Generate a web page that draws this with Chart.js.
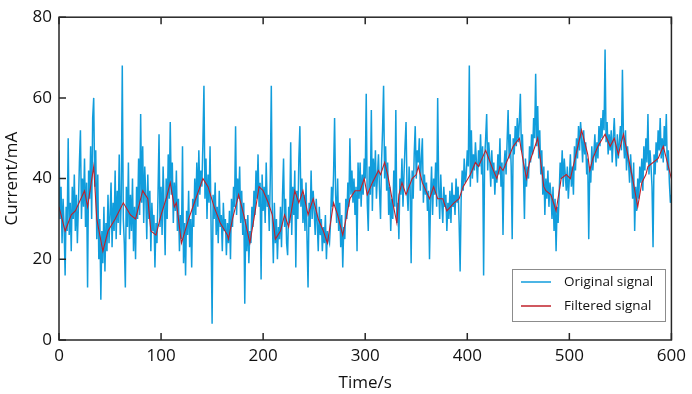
<!DOCTYPE html>
<html><head><meta charset="utf-8">
<script src="https://cdn.jsdelivr.net/npm/chart.js@4/dist/chart.umd.min.js"></script>
<style>html,body{margin:0;padding:0;background:#fff}#wrap{width:692px;height:394px}</style>
</head><body><div id="wrap"><canvas id="c" width="692" height="394"></canvas></div>
<script>
// ---- data ----
const xTickValues = [0, 100, 200, 300, 400, 500, 600];
const yTickValues = [0, 20, 40, 60, 80];
const sampleInterval = 1; // seconds between original samples
const originalSignal = [
47,30,38,24,35,28,16,33,27,50, 26,34,22,38,30,41,27,36,24,33,
44,52,30,40,33,45,28,39,13,42, 35,48,30,55,60,38,47,25,41,20,
30,10,27,19,33,17,29,22,36,24, 31,39,23,34,27,42,25,37,29,46,
26,35,68,30,24,13,38,28,44,25, 36,27,40,22,33,20,38,30,45,31,
56,34,48,29,43,36,25,41,30,37, 22,34,27,31,18,29,24,36,51,28,
38,26,43,33,21,40,30,46,35,54, 36,44,29,39,32,42,27,35,22,31,
25,48,19,29,16,32,26,37,23,30, 18,35,28,40,31,44,33,47,36,42,
38,49,63,35,45,30,41,34,48,28, 4,36,30,39,26,33,24,37,28,31,
22,34,27,30,21,29,24,32,20,35, 28,38,33,53,31,40,35,43,29,37,
26,34,9,30,22,31,19,27,24,33, 28,37,31,42,35,46,33,39,15,41,
32,38,29,44,33,36,27,40,63,30, 19,34,24,30,20,28,25,33,23,36,
45,28,35,24,21,33,29,49,26,38, 31,42,18,37,30,45,53,33,40,29,
36,27,39,25,13,34,28,42,30,37, 32,26,35,29,22,33,26,30,22,28,
24,31,20,27,25,24,29,38,33,41, 55,36,29,40,27,34,23,31,18,28,
25,35,30,39,33,50,36,42,34,40, 31,38,22,44,35,44,33,41,36,45,
40,61,34,27,43,36,57,32,45,38, 47,35,41,46,37,30,44,52,63,40,
48,37,44,31,38,27,35,30,42,33, 57,29,34,25,40,36,45,33,41,48,
54,37,32,43,38,19,42,35,46,53, 40,47,44,50,37,45,50,34,41,36,
39,32,37,20,35,43,31,40,36,44, 33,60,38,30,41,34,29,38,33,36,
27,34,30,37,29,39,33,36,31,40, 34,38,29,17,35,42,37,45,39,41,
47,43,68,38,52,40,46,42,49,44, 39,47,43,51,41,48,16,45,50,56,
42,49,45,38,47,40,44,36,42,39, 46,41,50,38,44,26,43,47,41,49,
57,45,51,43,25,50,46,53,48,55, 49,54,61,47,51,42,30,45,38,43,
40,48,44,51,46,55,50,66,48,58, 45,52,41,47,36,43,31,40,35,42,
33,39,36,30,38,27,35,22,33,29, 36,44,40,47,38,45,41,37,43,35,
40,46,38,43,36,48,42,50,45,53, 47,54,50,44,52,46,49,41,45,25,
43,39,48,42,46,51,44,49,45,53, 48,55,50,57,52,72,49,54,46,51,
47,52,44,50,55,48,43,51,45,49, 53,47,67,50,45,52,42,48,44,39,
46,41,35,44,27,38,32,40,35,43, 39,45,37,48,42,50,44,56,41,47,
43,38,23,46,41,49,44,52,47,55, 45,50,44,53,48,56,42,47,39,34,
36
];
const filteredTime = [0,6,12,16,25,28,34,37,43,48,55,63,70,75,82,87,90,95,100,105,109,113,115,120,127,134,141,146,152,158,165,166,170,176,181,187,191,196,200,205,209,212,217,221,225,231,235,239,244,249,254,259,263,269,273,278,282,285,290,295,299,302,307,313,315,319,322,327,331,333,336,340,346,350,352,356,363,367,371,376,380,387,392,396,403,408,411,418,424,429,432,435,440,445,451,455,458,461,469,472,475,477,482,487,492,497,501,512,518,520,523,528,535,540,544,548,553,558,562,567,571,575,577,582,587,592,595,600];
const filteredValue = [33,27,31,32,37,33,43,30,22,27,30,34,31,30,37,35,27,26,31,35,39,33,34,24,30,35,40,38,33,29,26,25,30,36,31,24,30,38,37,34,31,25,27,31,28,37,34,37,31,35,30,27,24,34,31,26,31,35,37,37,40,36,39,42,41,44,41,34,29,36,39,36,40,41,43,39,35,38,35,35,32,34,35,38,41,44,43,47,43,40,43,42,45,48,50,44,40,44,50,44,38,37,36,32,40,41,40,52,46,42,45,48,51,48,50,46,51,45,40,33,39,41,43,44,45,48,45,40];
const seriesLabels = ['Original signal', 'Filtered signal'];
const seriesColors = ['#119ddc', '#c0202a'];

// ---- chart ----
const FONT = 'Open Sans';
const originalPoints = originalSignal.map((v, i) => ({x: i * sampleInterval, y: v}));
const filteredPoints = filteredTime.map((t, i) => ({x: t, y: filteredValue[i]}));

const framePlugin = {
  id: 'frame',
  afterDatasetsDraw(chart) {
    const {ctx, chartArea: a, scales: {x, y}} = chart;
    ctx.save();
    ctx.strokeStyle = '#262626';
    ctx.lineWidth = 1.5;
    ctx.strokeRect(a.left, a.top, a.right - a.left, a.bottom - a.top);
    ctx.beginPath();
    const tl = 7;
    x.ticks.forEach(t => {
      const px = x.getPixelForValue(t.value);
      ctx.moveTo(px, a.bottom); ctx.lineTo(px, a.bottom - tl);
      ctx.moveTo(px, a.top); ctx.lineTo(px, a.top + tl);
    });
    y.ticks.forEach(t => {
      const py = y.getPixelForValue(t.value);
      ctx.moveTo(a.left, py); ctx.lineTo(a.left + tl, py);
    });
    ctx.stroke();
    // legend box
    const bx = 512, by = 269, bw = 153, bh = 52;
    ctx.fillStyle = '#fff';
    ctx.fillRect(bx, by, bw, bh);
    ctx.strokeStyle = '#8c8c8c';
    ctx.lineWidth = 1;
    ctx.strokeRect(bx + 0.5, by + 0.5, bw, bh);
    chart.data.datasets.forEach((ds, i) => {
      const ly = by + 13 + i * 24;
      ctx.strokeStyle = ds.borderColor;
      ctx.lineWidth = 1.5;
      ctx.beginPath(); ctx.moveTo(bx + 9, ly); ctx.lineTo(bx + 39, ly); ctx.stroke();
      ctx.fillStyle = '#111';
      ctx.font = '13.5px "' + FONT + '"';
      ctx.textBaseline = 'middle';
      ctx.textAlign = 'left';
      ctx.fillText(ds.label, bx + 52, ly);
    });
    ctx.restore();
  }
};

new Chart(document.getElementById('c'), {
  type: 'line',
  data: {
    datasets: [
      {label: seriesLabels[0], data: originalPoints, borderColor: seriesColors[0], borderWidth: 1.5, pointRadius: 0, tension: 0, order: 1},
      {label: seriesLabels[1], data: filteredPoints, borderColor: seriesColors[1], borderWidth: 1.1, pointRadius: 0, tension: 0, order: 0}
    ]
  },
  options: {
    responsive: false,
    animation: false,
    devicePixelRatio: 1,
    layout: {padding: {top: 9, right: 16, left: 0, bottom: 0}},
    plugins: {legend: {display: false}, tooltip: {enabled: false}},
    scales: {
      x: {
        type: 'linear', min: 0, max: 600,
        afterBuildTicks: s => { s.ticks = xTickValues.map(v => ({value: v})); },
        afterFit: s => { s.height = 54; },
        grid: {display: false, drawTicks: false},
        border: {display: false},
        ticks: {color: '#111', font: {family: FONT, size: 17}, padding: 6, maxRotation: 0},
        title: {display: true, text: 'Time/s', color: '#111', font: {family: FONT, size: 17}, padding: {top: 0, bottom: 1}}
      },
      y: {
        type: 'linear', min: 0, max: 80,
        afterBuildTicks: s => { s.ticks = yTickValues.map(v => ({value: v})); },
        afterFit: s => { s.width = 59; },
        grid: {display: false, drawTicks: false},
        border: {display: false},
        ticks: {color: '#111', font: {family: FONT, size: 17}, padding: 7},
        title: {display: true, text: 'Current/mA', color: '#111', font: {family: FONT, size: 17}, padding: {top: 2, bottom: 0}}
      }
    }
  },
  plugins: [framePlugin]
});
</script>
</body></html>
